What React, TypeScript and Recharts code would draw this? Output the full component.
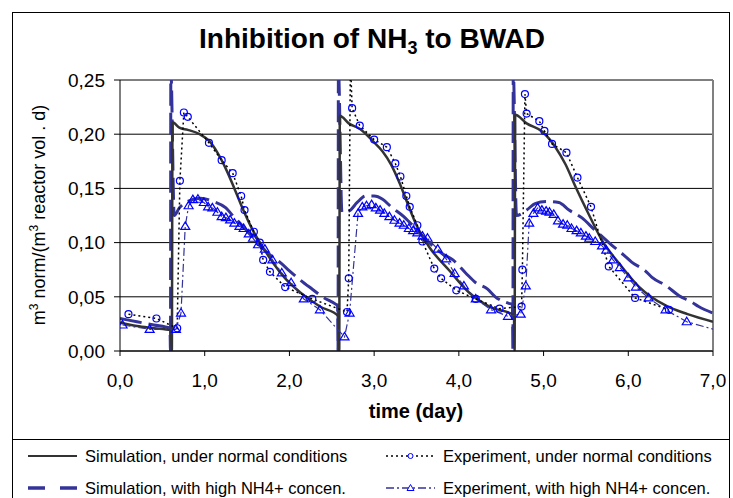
import { LineChart, Line, XAxis, YAxis, CartesianGrid, ReferenceLine } from "recharts";

// time (day) / value pairs
const simNormal = [
  [0, 0.026], [0.2, 0.023], [0.4, 0.021], [0.6, 0.019], [0.612, 0], [0.62, 0.211], [0.7, 0.206],
  [0.8, 0.204], [0.94, 0.2], [1.05, 0.194], [1.15, 0.183], [1.25, 0.168], [1.35, 0.15],
  [1.45, 0.131], [1.57, 0.111], [1.7, 0.094], [1.81, 0.081], [1.95, 0.067], [2.12, 0.0545],
  [2.36, 0.041], [2.58, 0.032], [2.588, 0], [2.595, 0.217], [2.7, 0.21], [2.83, 0.205],
  [2.98, 0.194], [3.1, 0.184], [3.2, 0.172], [3.3, 0.155], [3.4, 0.135], [3.5, 0.116],
  [3.65, 0.096], [3.89, 0.074], [4.12, 0.054], [4.36, 0.041], [4.65, 0.033], [4.658, 0],
  [4.665, 0.218], [4.8, 0.21], [4.99, 0.202], [5.14, 0.188], [5.26, 0.172], [5.38, 0.151],
  [5.54, 0.125], [5.69, 0.102], [5.89, 0.081], [6.13, 0.059], [6.44, 0.042], [6.7, 0.034],
  [7, 0.027],
];

const simHigh = [
  [0, 0.03], [0.2, 0.027], [0.4, 0.024], [0.59, 0.021], [0.596, 0], [0.6, 0.26], [0.64, 0.125],
  [0.7, 0.132], [0.8, 0.138], [0.95, 0.141], [1.1, 0.138], [1.25, 0.132], [1.33, 0.125],
  [1.45, 0.115], [1.6, 0.102], [1.75, 0.09], [1.9, 0.081], [2.0, 0.074], [2.12, 0.066],
  [2.27, 0.057], [2.39, 0.05], [2.55, 0.043], [2.568, 0.042], [2.574, 0], [2.578, 0.26],
  [2.62, 0.128], [2.7, 0.129], [2.8, 0.137], [2.9, 0.143], [3.0, 0.143], [3.1, 0.14],
  [3.2, 0.133], [3.35, 0.124], [3.5, 0.112], [3.65, 0.1], [3.8, 0.09], [3.93, 0.084],
  [4.08, 0.072], [4.2, 0.063], [4.34, 0.057], [4.43, 0.05], [4.59, 0.044], [4.632, 0.043],
  [4.638, 0], [4.642, 0.26], [4.68, 0.125], [4.8, 0.13], [4.9, 0.136], [5.03, 0.138],
  [5.18, 0.137], [5.3, 0.13], [5.45, 0.123], [5.6, 0.112], [5.8, 0.098], [5.94, 0.089],
  [6.04, 0.082], [6.2, 0.074], [6.28, 0.068], [6.45, 0.06], [6.6, 0.051], [6.75, 0.045],
  [6.83, 0.041], [7, 0.035],
];

const expNormal = [
  [0.1, 0.034], [0.43, 0.03], [0.675, 0.021], [0.707, 0.157], [0.754, 0.22], [0.8, 0.216],
  [1.05, 0.192], [1.2, 0.176], [1.33, 0.164], [1.43, 0.143], [1.47, 0.13], [1.58, 0.11],
  [1.65, 0.1], [1.69, 0.084], [1.77, 0.073], [1.95, 0.059], [2.27, 0.048], [2.68, 0.036],
  [2.7, 0.067], [2.72, 0.27], [2.74, 0.224], [2.83, 0.208], [3.0, 0.195], [3.15, 0.188],
  [3.25, 0.173], [3.31, 0.161], [3.38, 0.143], [3.42, 0.133], [3.51, 0.116], [3.57, 0.101],
  [3.71, 0.076], [3.79, 0.067], [3.97, 0.056], [4.2, 0.048], [4.48, 0.039], [4.74, 0.041],
  [4.75, 0.075], [4.78, 0.237], [4.8, 0.219], [4.95, 0.212], [5.01, 0.203], [5.1, 0.191],
  [5.27, 0.183], [5.4, 0.16], [5.56, 0.133], [5.77, 0.078], [6.08, 0.049], [6.48, 0.038],
];

const expHigh = [
  [0.03, 0.024], [0.35, 0.02], [0.66, 0.02], [0.72, 0.035], [0.77, 0.115], [0.81, 0.134],
  [0.86, 0.1396], [0.92, 0.14], [0.99, 0.137], [1.04, 0.133], [1.09, 0.132], [1.15, 0.128],
  [1.2, 0.124], [1.25, 0.123], [1.3, 0.121], [1.35, 0.118], [1.41, 0.115], [1.46, 0.113],
  [1.52, 0.108], [1.57, 0.104], [1.63, 0.098], [1.71, 0.094], [1.8, 0.084], [1.91, 0.072],
  [2.02, 0.063], [2.17, 0.048], [2.36, 0.038], [2.65, 0.013], [2.71, 0.035], [2.81, 0.127],
  [2.86, 0.133], [2.91, 0.134], [2.97, 0.135], [3.02, 0.132], [3.07, 0.13], [3.12, 0.127],
  [3.18, 0.124], [3.24, 0.1206], [3.3, 0.118], [3.35, 0.116], [3.41, 0.113], [3.46, 0.111],
  [3.51, 0.109], [3.57, 0.106], [3.63, 0.104], [3.75, 0.094], [3.85, 0.085], [3.95, 0.0715],
  [4.06, 0.06], [4.2, 0.048], [4.38, 0.038], [4.58, 0.032], [4.73, 0.034], [4.79, 0.06],
  [4.83, 0.118], [4.88, 0.127], [4.93, 0.132], [4.98, 0.13], [5.03, 0.129], [5.07, 0.128],
  [5.12, 0.126], [5.17, 0.12], [5.23, 0.117], [5.28, 0.116], [5.33, 0.113], [5.39, 0.111],
  [5.44, 0.109], [5.5, 0.106], [5.54, 0.104], [5.61, 0.101], [5.69, 0.097], [5.74, 0.093],
  [5.82, 0.084], [5.9, 0.077], [6.0, 0.0675], [6.09, 0.059], [6.24, 0.049], [6.44, 0.038],
  [6.69, 0.027], [7.1, 0.018],
];

const xTicks = [0, 1, 2, 3, 4, 5, 6, 7];
const yTicks = [0, 0.05, 0.1, 0.15, 0.2, 0.25];

const toRows = (a: number[][]) => a.map(([t, v]) => ({ t, v }));

const FONT = '"Liberation Sans", Arial, sans-serif';
const NAVY = "#333399";
const BLUE = "#0000ff";

const Triangle = (props: any) => {
  const { cx, cy, index } = props;
  if (cx == null || cy == null) return <g key={`tri-${index}`} />;
  return (
    <polygon
      key={`tri-${index}`}
      points={`${cx},${cy - 4.5} ${cx + 4.5},${cy + 3} ${cx - 4.5},${cy + 3}`}
      fill="none"
      stroke={BLUE}
      strokeWidth={1.2}
    />
  );
};

const LegendItem = ({ x, y, kind, label }: { x: number; y: number; kind: string; label: string }) => (
  <div style={{ position: "absolute", left: x, top: y - 12, height: 24, display: "flex", alignItems: "center" }}>
    <svg width={52} height={24} style={{ marginRight: 5 }}>
      {kind === "simNormal" && <line x1={0} x2={49} y1={12} y2={12} stroke="#333" strokeWidth={2} />}
      {kind === "simHigh" && (
        <line x1={0} x2={49} y1={12} y2={12} stroke={NAVY} strokeWidth={3.5} strokeDasharray="17 15" />
      )}
      {kind === "expNormal" && (
        <>
          <line x1={0} x2={49} y1={12} y2={12} stroke="#000" strokeWidth={1.3} strokeDasharray="2 3" />
          <circle cx={24.5} cy={12} r={2.5} fill="#fff" stroke={BLUE} strokeWidth={1} />
        </>
      )}
      {kind === "expHigh" && (
        <>
          <line x1={0} x2={49} y1={12} y2={12} stroke={NAVY} strokeWidth={1.3} strokeDasharray="8 3 2 3" />
          <polygon points="24.5,8.5 28,14.5 21,14.5" fill="#fff" stroke={BLUE} strokeWidth={1} />
        </>
      )}
    </svg>
    <span style={{ fontSize: 16.5, fontFamily: FONT, color: "#000", whiteSpace: "nowrap" }}>{label}</span>
  </div>
);

const App = () => {
  const fmtY = (v: number) => v.toFixed(2).replace(".", ",");
  const fmtX = (v: number) => v.toFixed(1).replace(".", ",");

  return (
    <div
      style={{
        position: "absolute",
        left: 0,
        top: 0,
        width: 733,
        height: 498,
        overflow: "hidden",
        background: "#fff",
        fontFamily: FONT,
      }}
    >
      <div style={{ position: "absolute", left: 12, top: 12, width: 716, height: 520, border: "1px solid #000" }} />
      <div style={{ position: "absolute", left: 12, top: 439, width: 717, borderTop: "1px solid #000" }} />

      <div
        style={{
          position: "absolute",
          left: 0,
          top: 24,
          width: 744,
          textAlign: "center",
          fontSize: 28,
          fontWeight: "bold",
          lineHeight: "30px",
        }}
      >
        Inhibition of NH<sub style={{ fontSize: 18, verticalAlign: "-6px" }}>3</sub> to BWAD
      </div>

      <div
        style={{
          position: "absolute",
          left: 36,
          top: 215,
          width: 320,
          textAlign: "center",
          fontSize: 18,
          lineHeight: "20px",
          whiteSpace: "nowrap",
          transform: "translate(-50%, -50%) rotate(-90deg)",
        }}
      >
        m<sup style={{ fontSize: 12, verticalAlign: "7px" }}>3</sup> norm/(m
        <sup style={{ fontSize: 12, verticalAlign: "7px" }}>3</sup> reactor vol . d)
      </div>

      <div
        style={{
          position: "absolute",
          left: 316,
          top: 400,
          width: 200,
          textAlign: "center",
          fontSize: 20,
          fontWeight: "bold",
          lineHeight: "22px",
        }}
      >
        time (day)
      </div>

      <div style={{ position: "absolute", left: 0, top: 0 }}>
        <LineChart width={733} height={439} margin={{ top: 80, right: 20, left: 0, bottom: 0 }}>
          <CartesianGrid horizontal vertical={false} stroke="#000" strokeWidth={1} />
          <XAxis
            type="number"
            dataKey="t"
            domain={[0, 7]}
            ticks={xTicks}
            allowDataOverflow
            tickFormatter={fmtX}
            height={88}
            tickSize={5}
            tickMargin={18}
            stroke="#000"
            tick={{ fill: "#000", fontSize: 19, fontFamily: FONT }}
          />
          <YAxis
            type="number"
            domain={[0, 0.25]}
            ticks={yTicks}
            allowDataOverflow
            tickFormatter={fmtY}
            width={120}
            tickSize={6}
            tickMargin={9}
            stroke="#000"
            tick={{ fill: "#000", fontSize: 19, fontFamily: FONT }}
          />
          <ReferenceLine x={7} stroke="#808080" strokeWidth={2} />
          <Line
            data={toRows(simHigh)}
            dataKey="v"
            type="monotoneX"
            stroke={NAVY}
            strokeWidth={3}
            strokeDasharray="22 7"
            dot={false}
            isAnimationActive={false}
          />
          <Line
            data={toRows(simNormal)}
            dataKey="v"
            type="monotoneX"
            stroke="#333"
            strokeWidth={2.5}
            dot={false}
            isAnimationActive={false}
          />
          <Line
            data={toRows(expNormal)}
            dataKey="v"
            type="linear"
            stroke="#000"
            strokeWidth={1.5}
            strokeDasharray="2 3"
            dot={{ r: 3.5, fill: "none", stroke: BLUE, strokeWidth: 1.2, strokeDasharray: "none" }}
            isAnimationActive={false}
          />
          <Line
            data={toRows(expHigh)}
            dataKey="v"
            type="linear"
            stroke={NAVY}
            strokeWidth={1.2}
            strokeDasharray="8 3 2 3"
            dot={(p: any) => <Triangle {...p} />}
            isAnimationActive={false}
          />
        </LineChart>
      </div>

      <LegendItem x={28} y={456} kind="simNormal" label="Simulation, under normal conditions" />
      <LegendItem x={28} y={488} kind="simHigh" label="Simulation, with high NH4+ concen." />
      <LegendItem x={386} y={456} kind="expNormal" label="Experiment, under normal conditions" />
      <LegendItem x={386} y={488} kind="expHigh" label="Experiment, with high NH4+ concen." />
    </div>
  );
};

export default App;
